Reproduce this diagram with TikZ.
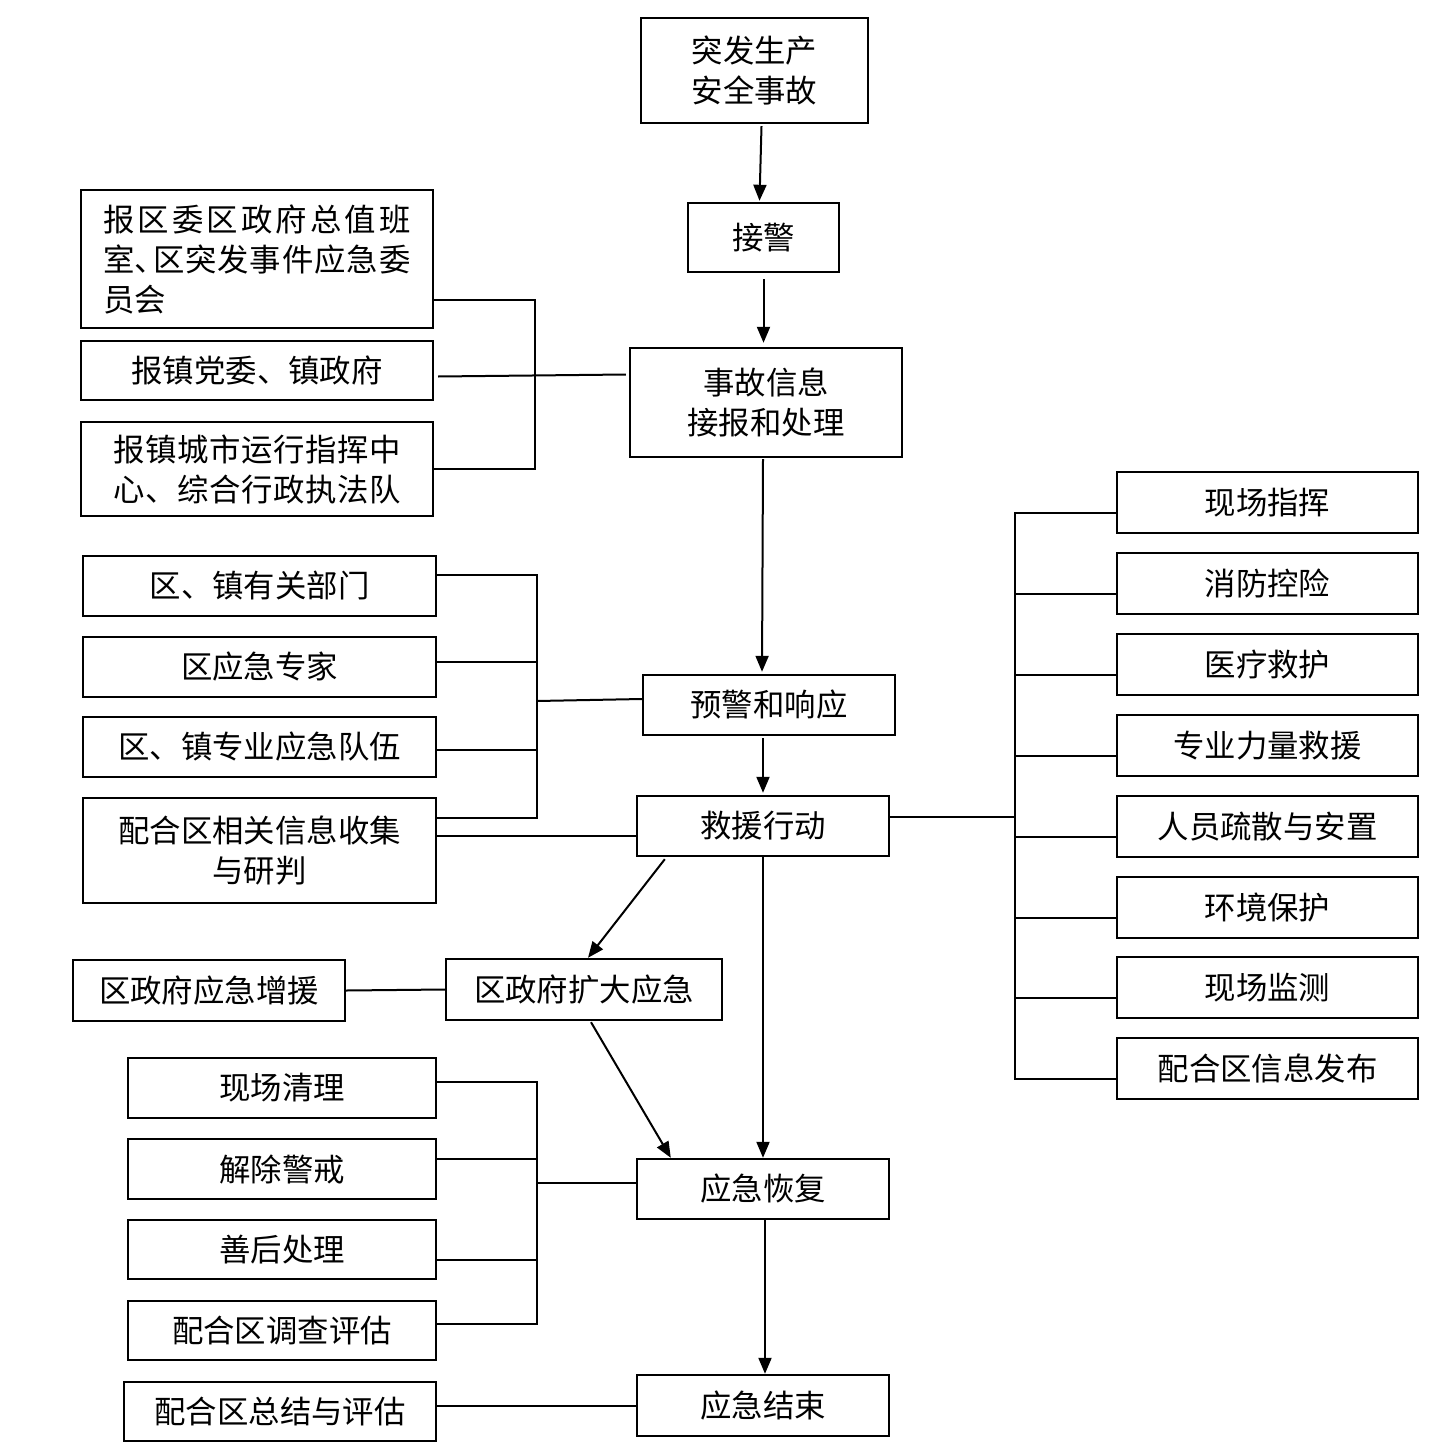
\documentclass[tikz,border=0pt]{standalone}
\usepackage{fontspec}
\setmainfont{Noto Sans CJK SC}
\usetikzlibrary{arrows.meta,calc}
\tikzset{
  box/.style={draw, line width=1.2pt, inner sep=0pt, align=center,
    font=\fontsize{15.7pt}{20pt}\selectfont},
  conn/.style={line width=1pt},
  arr/.style={line width=1pt, -{Triangle[length=8pt,width=6.5pt]}}
}
\newcommand\mybox[6]{%
  \pgfmathsetmacro\bw{(#4-#2)*0.5}%
  \pgfmathsetmacro\bh{(#5-#3)*0.5}%
  \node[box, minimum width=\bw pt, minimum height=\bh pt] (#1) at ({(#2+#4)/2},{(#3+#5)/2}) {#6};}
\begin{document}
\begin{tikzpicture}[x=0.5pt,y=-0.5pt]
\useasboundingbox (0,0) rectangle (1456,1445);
% central column
\mybox{top}{641}{18}{868}{123}{突发生产\\安全事故}
\mybox{jj}{688}{203}{839}{272}{接警}
\mybox{info}{630}{348}{902}{457}{事故信息\\接报和处理}
\mybox{warn}{643}{675}{895}{735}{预警和响应}
\mybox{resc}{637}{796}{889}{856}{救援行动}
\mybox{kd}{446}{959}{722}{1020}{区政府扩大应急}
\mybox{zy}{73}{960}{345}{1021}{区政府应急增援}
\mybox{rec}{637}{1159}{889}{1219}{应急恢复}
\mybox{end}{637}{1375}{889}{1436}{应急结束}
% left group 1
\mybox{L1}{81}{190}{433}{328}{\parbox{153.5pt}{\makebox[153.5pt][s]{报\hfil 区\hfil 委\hfil 区\hfil 政\hfil 府\hfil 总\hfil 值\hfil 班}\\\makebox[153.5pt][s]{室\makebox[0.55em][l]{、}\hfil 区\hfil 突\hfil 发\hfil 事\hfil 件\hfil 应\hfil 急\hfil 委}\\员会}}
\mybox{L2}{81}{341}{433}{400}{报镇党委、镇政府}
\mybox{L3}{81}{422}{433}{516}{\makebox[143.5pt][s]{报\hfil 镇\hfil 城\hfil 市\hfil 运\hfil 行\hfil 指\hfil 挥\hfil 中}\\\makebox[143.5pt][s]{心\hfil 、\hfil 综\hfil 合\hfil 行\hfil 政\hfil 执\hfil 法\hfil 队}}
% left group 2
\mybox{M1}{83}{556}{436}{616}{区、镇有关部门}
\mybox{M2}{83}{637}{436}{697}{区应急专家}
\mybox{M3}{83}{717}{436}{777}{区、镇专业应急队伍}
\mybox{M4}{83}{798}{436}{903}{配合区相关信息收集\\与研判}
% right group
\mybox{R1}{1117}{472}{1418}{533}{现场指挥}
\mybox{R2}{1117}{553}{1418}{614}{消防控险}
\mybox{R3}{1117}{634}{1418}{695}{医疗救护}
\mybox{R4}{1117}{715}{1418}{776}{专业力量救援}
\mybox{R5}{1117}{796}{1418}{857}{人员疏散与安置}
\mybox{R6}{1117}{877}{1418}{938}{环境保护}
\mybox{R7}{1117}{957}{1418}{1018}{现场监测}
\mybox{R8}{1117}{1038}{1418}{1099}{配合区信息发布}
% bottom-left group
\mybox{B1}{128}{1058}{436}{1118}{现场清理}
\mybox{B2}{128}{1139}{436}{1199}{解除警戒}
\mybox{B3}{128}{1220}{436}{1279}{善后处理}
\mybox{B4}{128}{1301}{436}{1360}{配合区调查评估}
\mybox{zj}{124}{1382}{436}{1441}{配合区总结与评估}

% main arrows
\draw[arr] ($(top.south)+(7,2)$) -- ($(jj.north)+(-4,-1)$);
\draw[arr] ($(jj.south)+(0,6)$) -- ($(jj.south |- info.north)+(0,-4)$);
\draw[arr] ($(info.south)+(-3,1)$) -- ($(info.south |- warn.north)+(-4,-2)$);
\draw[arr] ($(resc.north |- warn.south)+(0,2)$) -- ($(resc.north)+(0,-2)$);
\draw[arr] (resc.south) -- (resc.south |- rec.north);
\draw[arr] ($(rec.south)+(2,0)$) -- ($(rec.south |- end.north)+(2,0)$);
\draw[arr] ($(resc.south west)+(29,2)$) -- ($(kd.north)+(4,0)$);
\draw[arr] ($(kd.south)+(7,1)$) -- ($(rec.north west)+(35,0)$);
\draw[conn] (zy.east) -- (kd.west);
\draw[conn] (zj.east |- end.west) -- (end.west);

% bracket 1
\coordinate (k1) at (535,300);
\draw[conn] ($(L1.east)+(0,41)$) -- (k1) |- (L3.east);
\draw[conn] ($(L2.east)+(4,6)$) -- ($(info.west)+(-3,-28)$);

% bracket 2
\coordinate (k2) at (537,575);
\draw[conn] ($(M1.east)+(0,-11)$) -- (k2) |- ($(M4.east)+(0,-32.5)$);
\draw[conn] ($(M2.east)+(0,-5)$) -- (k2 |- {$(M2.east)+(0,-5)$});
\draw[conn] ($(M3.east)+(0,3)$) -- (k2 |- {$(M3.east)+(0,3)$});
\draw[conn] (k2 |- {$(warn.west)+(0,-4)$}) -- ($(warn.west)+(0,-6)$);
\draw[conn] ($(M4.east)+(0,-14.5)$) -- (resc.west |- {$(M4.east)+(0,-14.5)$});

% right bracket
\coordinate (k3) at (1015,513);
\draw[conn] ($(R1.west)+(0,10.5)$) -- (k3) |- ($(R8.west)+(0,10.5)$);
\foreach \r in {R2,R3,R4,R5,R6,R7}
  \draw[conn] ($(\r.west)+(0,10.5)$) -- (k3 |- {$(\r.west)+(0,10.5)$});
\draw[conn] ($(resc.east)+(0,-9)$) -- (k3 |- {$(resc.east)+(0,-9)$});

% bracket 3
\coordinate (k4) at (537,1082);
\draw[conn] ($(B1.east)+(0,-6)$) -- (k4) |- ($(B4.east)+(0,-6.5)$);
\draw[conn] ($(B2.east)+(0,-10)$) -- (k4 |- {$(B2.east)+(0,-10)$});
\draw[conn] ($(B3.east)+(0,10.5)$) -- (k4 |- {$(B3.east)+(0,10.5)$});
\draw[conn] (k4 |- {$(rec.west)+(0,-6)$}) -- ($(rec.west)+(0,-6)$);
\end{tikzpicture}
\end{document}
